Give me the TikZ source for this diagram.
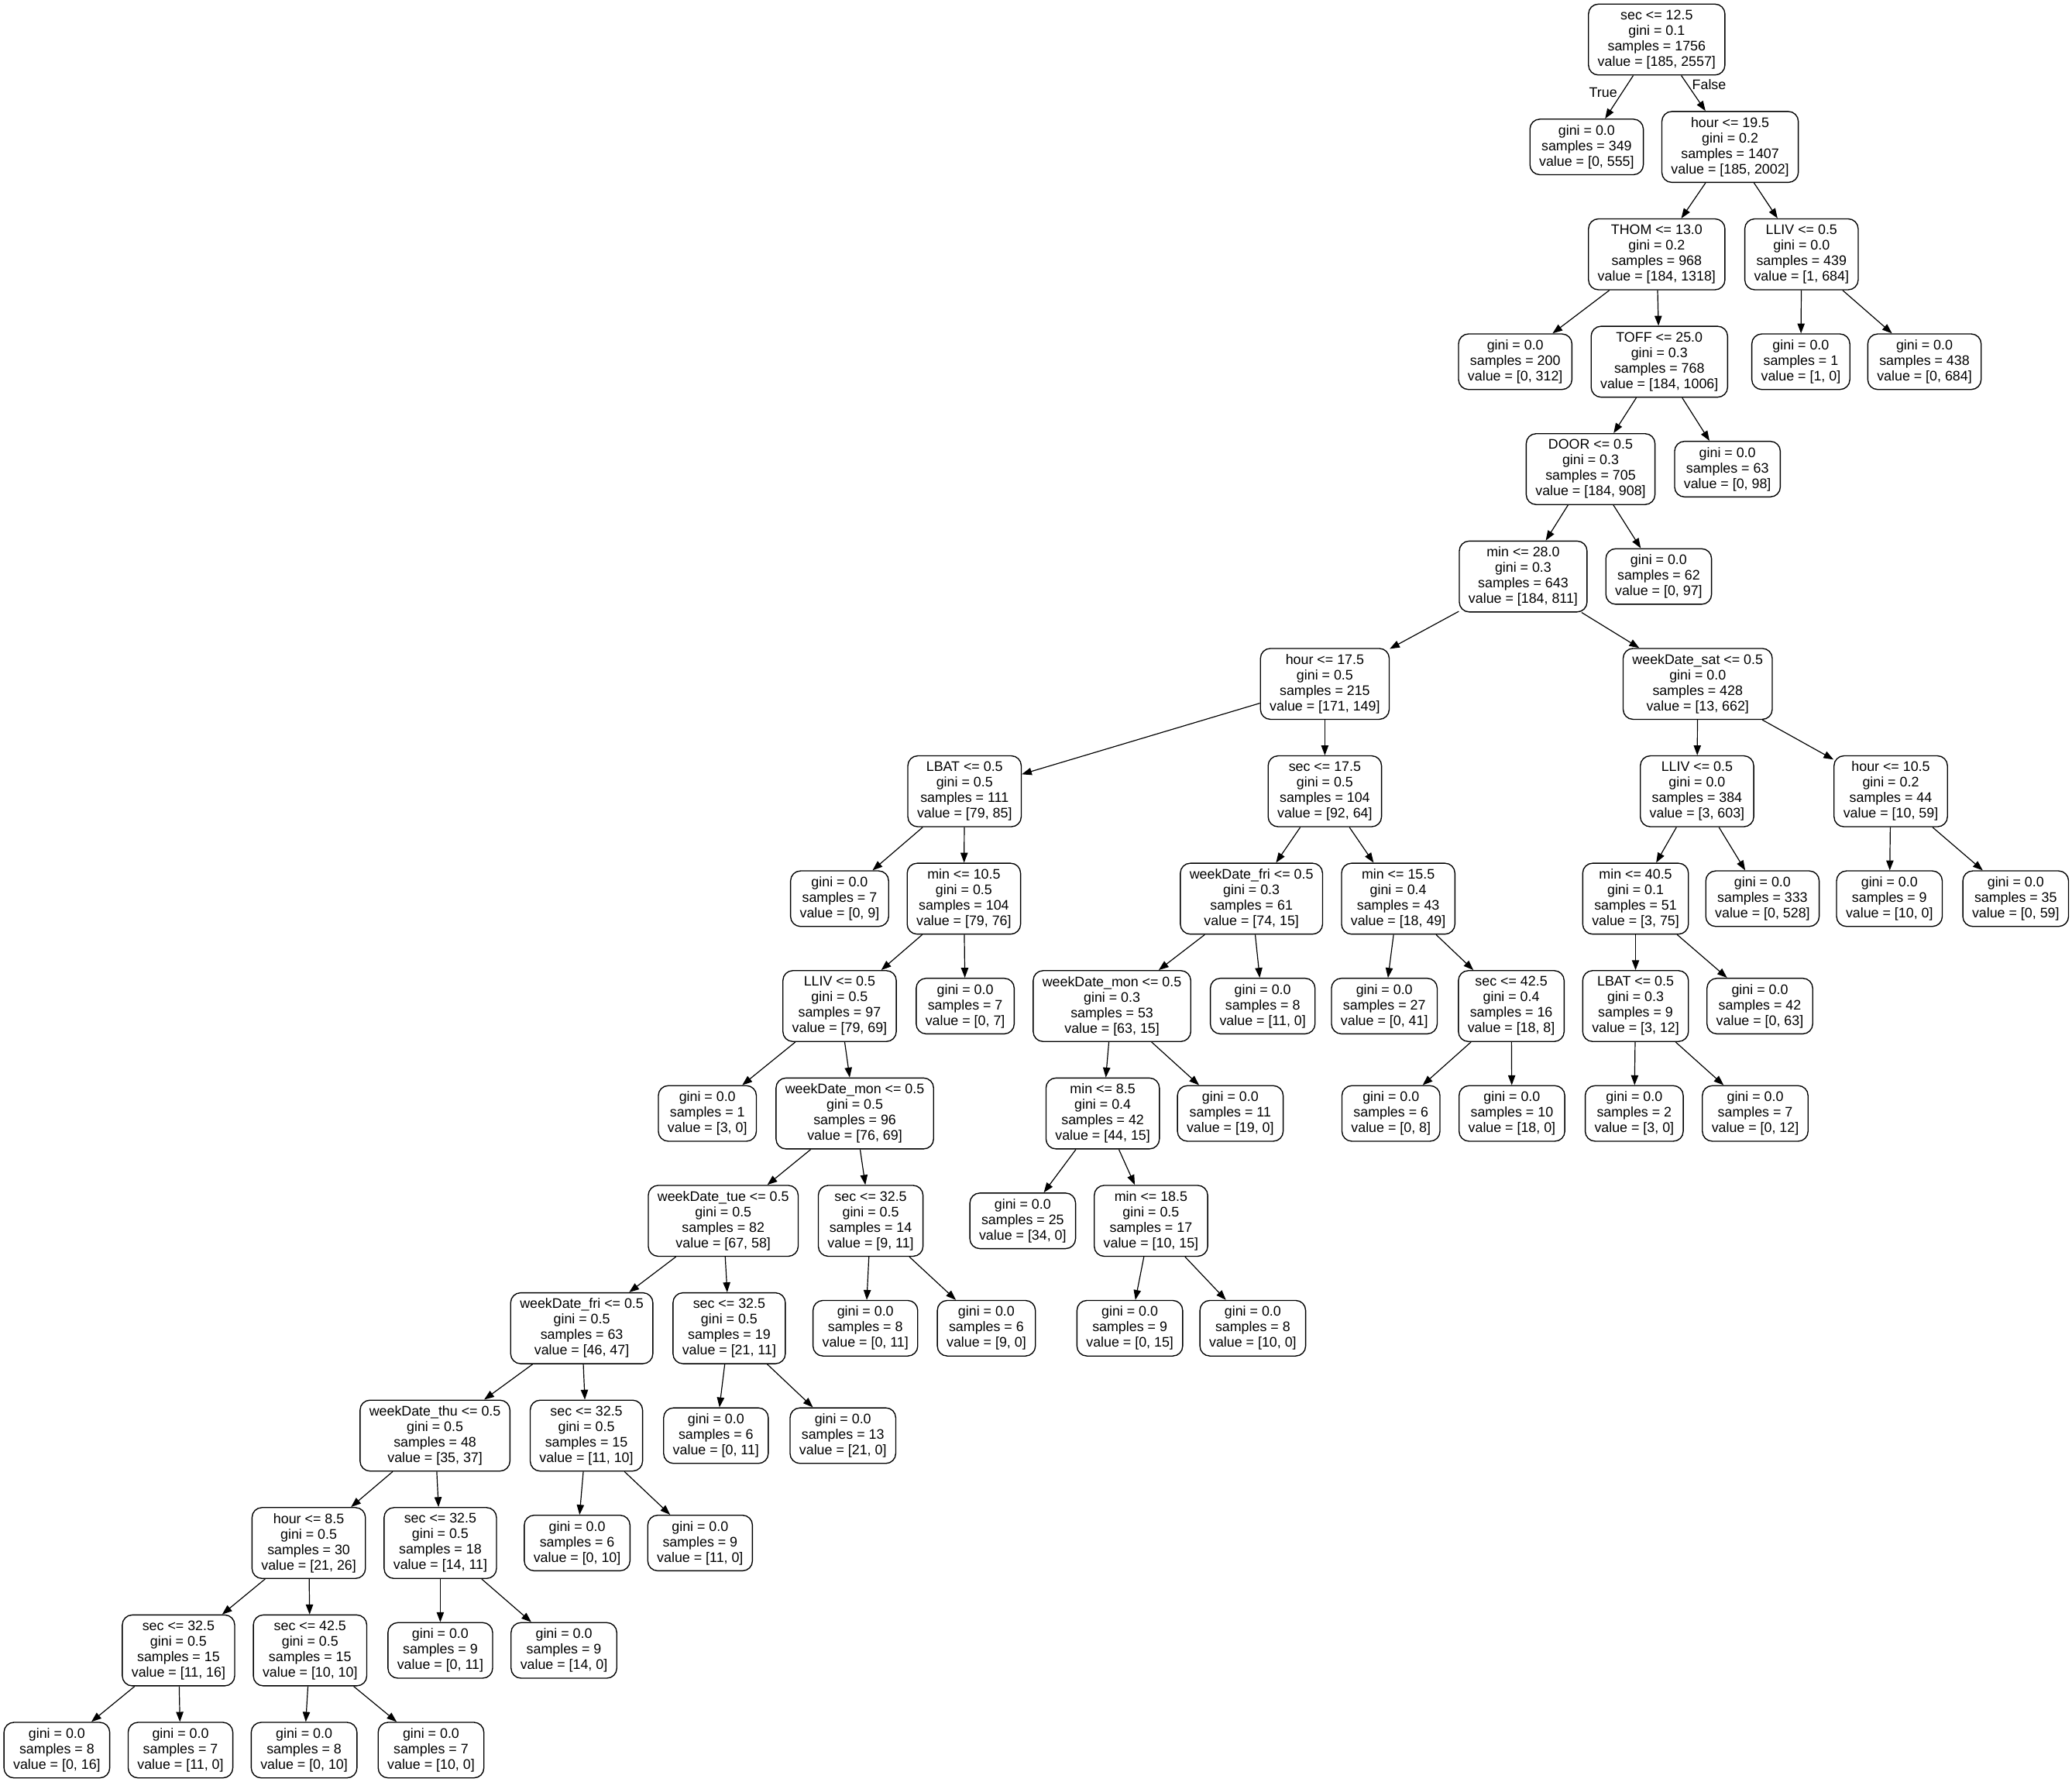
\documentclass[tikz,border=0pt]{standalone}
\usepackage{fontspec}
\setmainfont{Liberation Sans}
\usetikzlibrary{arrows.meta}
\begin{document}
\begin{tikzpicture}[x=1pt, y=1pt, node distance=81.2pt, font=\fontsize{10.45pt}{11.7pt}\selectfont,
        split/.style={draw, rounded corners=7.5pt, align=center, inner xsep=7pt, inner ysep=0pt, minimum height=53.6pt, line width=0.8pt},
        leaf/.style={split, minimum height=42pt},
        link/.style={-{Triangle[length=7.5pt, width=5.5pt]}, line width=0.7pt}]
        \useasboundingbox (0,0) rectangle (1567.1,-1347.4);
        \node[split] (0) at (1253,-29.9) {sec <= 12.5\\gini = 0.1\\samples = 1756\\value = [185, 2557]};
        \node[leaf] (1) [below of=0, xshift=-53pt] {gini = 0.0\\samples = 349\\value = [0, 555]};
        \node[split] (2) [below of=0, xshift=55.5pt] {hour <= 19.5\\gini = 0.2\\samples = 1407\\value = [185, 2002]};
        \node[split] (3) [below of=2, xshift=-55.5pt] {THOM <= 13.0\\gini = 0.2\\samples = 968\\value = [184, 1318]};
        \node[leaf] (4) [below of=3, xshift=-107pt] {gini = 0.0\\samples = 200\\value = [0, 312]};
        \node[split] (5) [below of=3, xshift=2pt] {TOFF <= 25.0\\gini = 0.3\\samples = 768\\value = [184, 1006]};
        \node[split] (6) [below of=5, xshift=-52pt] {DOOR <= 0.5\\gini = 0.3\\samples = 705\\value = [184, 908]};
        \node[split] (7) [below of=6, xshift=-51pt] {min <= 28.0\\gini = 0.3\\samples = 643\\value = [184, 811]};
        \node[split] (8) [below of=7, xshift=-150pt] {hour <= 17.5\\gini = 0.5\\samples = 215\\value = [171, 149]};
        \node[split] (9) [below of=8, xshift=-272.5pt] {LBAT <= 0.5\\gini = 0.5\\samples = 111\\value = [79, 85]};
        \node[leaf] (10) [below of=9, xshift=-94.5pt] {gini = 0.0\\samples = 7\\value = [0, 9]};
        \node[split] (11) [below of=9, xshift=-0.5pt] {min <= 10.5\\gini = 0.5\\samples = 104\\value = [79, 76]};
        \node[split] (12) [below of=11, xshift=-94pt] {LLIV <= 0.5\\gini = 0.5\\samples = 97\\value = [79, 69]};
        \node[leaf] (13) [below of=12, xshift=-100pt] {gini = 0.0\\samples = 1\\value = [3, 0]};
        \node[split] (14) [below of=12, xshift=11.5pt] {weekDate\_mon <= 0.5\\gini = 0.5\\samples = 96\\value = [76, 69]};
        \node[split] (15) [below of=14, xshift=-99.5pt] {weekDate\_tue <= 0.5\\gini = 0.5\\samples = 82\\value = [67, 58]};
        \node[split] (16) [below of=15, xshift=-107pt] {weekDate\_fri <= 0.5\\gini = 0.5\\samples = 63\\value = [46, 47]};
        \node[split] (17) [below of=16, xshift=-111pt] {weekDate\_thu <= 0.5\\gini = 0.5\\samples = 48\\value = [35, 37]};
        \node[split] (18) [below of=17, xshift=-95.5pt] {hour <= 8.5\\gini = 0.5\\samples = 30\\value = [21, 26]};
        \node[split] (19) [below of=18, xshift=-98.5pt] {sec <= 32.5\\gini = 0.5\\samples = 15\\value = [11, 16]};
        \node[leaf] (20) [below of=19, node distance=75.4pt, xshift=-92pt] {gini = 0.0\\samples = 8\\value = [0, 16]};
        \node[leaf] (21) [below of=19, node distance=75.4pt, xshift=1.5pt] {gini = 0.0\\samples = 7\\value = [11, 0]};
        \node[split] (22) [below of=18, xshift=1pt] {sec <= 42.5\\gini = 0.5\\samples = 15\\value = [10, 10]};
        \node[leaf] (23) [below of=22, node distance=75.4pt, xshift=-4.5pt] {gini = 0.0\\samples = 8\\value = [0, 10]};
        \node[leaf] (24) [below of=22, node distance=75.4pt, xshift=91.5pt] {gini = 0.0\\samples = 7\\value = [10, 0]};
        \node[split] (25) [below of=17, xshift=4pt] {sec <= 32.5\\gini = 0.5\\samples = 18\\value = [14, 11]};
        \node[leaf] (26) [below of=25] {gini = 0.0\\samples = 9\\value = [0, 11]};
        \node[leaf] (27) [below of=25, xshift=93.5pt] {gini = 0.0\\samples = 9\\value = [14, 0]};
        \node[split] (28) [below of=16, xshift=3.5pt] {sec <= 32.5\\gini = 0.5\\samples = 15\\value = [11, 10]};
        \node[leaf] (29) [below of=28, xshift=-7pt] {gini = 0.0\\samples = 6\\value = [0, 10]};
        \node[leaf] (30) [below of=28, xshift=86pt] {gini = 0.0\\samples = 9\\value = [11, 0]};
        \node[split] (31) [below of=15, xshift=4.5pt] {sec <= 32.5\\gini = 0.5\\samples = 19\\value = [21, 11]};
        \node[leaf] (32) [below of=31, xshift=-10pt] {gini = 0.0\\samples = 6\\value = [0, 11]};
        \node[leaf] (33) [below of=31, xshift=86pt] {gini = 0.0\\samples = 13\\value = [21, 0]};
        \node[split] (34) [below of=14, xshift=12pt] {sec <= 32.5\\gini = 0.5\\samples = 14\\value = [9, 11]};
        \node[leaf] (35) [below of=34, xshift=-4pt] {gini = 0.0\\samples = 8\\value = [0, 11]};
        \node[leaf] (36) [below of=34, xshift=87.5pt] {gini = 0.0\\samples = 6\\value = [9, 0]};
        \node[leaf] (37) [below of=11, xshift=1pt] {gini = 0.0\\samples = 7\\value = [0, 7]};
        \node[split] (38) [below of=8] {sec <= 17.5\\gini = 0.5\\samples = 104\\value = [92, 64]};
        \node[split] (39) [below of=38, xshift=-55.5pt] {weekDate\_fri <= 0.5\\gini = 0.3\\samples = 61\\value = [74, 15]};
        \node[split] (40) [below of=39, xshift=-105.5pt] {weekDate\_mon <= 0.5\\gini = 0.3\\samples = 53\\value = [63, 15]};
        \node[split] (41) [below of=40, xshift=-7pt] {min <= 8.5\\gini = 0.4\\samples = 42\\value = [44, 15]};
        \node[leaf] (42) [below of=41, xshift=-60.5pt] {gini = 0.0\\samples = 25\\value = [34, 0]};
        \node[split] (43) [below of=41, xshift=36.5pt] {min <= 18.5\\gini = 0.5\\samples = 17\\value = [10, 15]};
        \node[leaf] (44) [below of=43, xshift=-16pt] {gini = 0.0\\samples = 9\\value = [0, 15]};
        \node[leaf] (45) [below of=43, xshift=77pt] {gini = 0.0\\samples = 8\\value = [10, 0]};
        \node[leaf] (46) [below of=40, xshift=89.5pt] {gini = 0.0\\samples = 11\\value = [19, 0]};
        \node[leaf] (47) [below of=39, xshift=8.5pt] {gini = 0.0\\samples = 8\\value = [11, 0]};
        \node[split] (48) [below of=38, xshift=55.5pt] {min <= 15.5\\gini = 0.4\\samples = 43\\value = [18, 49]};
        \node[leaf] (49) [below of=48, xshift=-10.5pt] {gini = 0.0\\samples = 27\\value = [0, 41]};
        \node[split] (50) [below of=48, xshift=85.5pt] {sec <= 42.5\\gini = 0.4\\samples = 16\\value = [18, 8]};
        \node[leaf] (51) [below of=50, xshift=-91pt] {gini = 0.0\\samples = 6\\value = [0, 8]};
        \node[leaf] (52) [below of=50, xshift=0.5pt] {gini = 0.0\\samples = 10\\value = [18, 0]};
        \node[split] (53) [below of=7, xshift=132pt] {weekDate\_sat <= 0.5\\gini = 0.0\\samples = 428\\value = [13, 662]};
        \node[split] (54) [below of=53, xshift=-0.5pt] {LLIV <= 0.5\\gini = 0.0\\samples = 384\\value = [3, 603]};
        \node[split] (55) [below of=54, xshift=-46.5pt] {min <= 40.5\\gini = 0.1\\samples = 51\\value = [3, 75]};
        \node[split] (56) [below of=55] {LBAT <= 0.5\\gini = 0.3\\samples = 9\\value = [3, 12]};
        \node[leaf] (57) [below of=56, xshift=-1pt] {gini = 0.0\\samples = 2\\value = [3, 0]};
        \node[leaf] (58) [below of=56, xshift=90.5pt] {gini = 0.0\\samples = 7\\value = [0, 12]};
        \node[leaf] (59) [below of=55, xshift=94pt] {gini = 0.0\\samples = 42\\value = [0, 63]};
        \node[leaf] (60) [below of=54, xshift=49.5pt] {gini = 0.0\\samples = 333\\value = [0, 528]};
        \node[split] (61) [below of=53, xshift=146pt] {hour <= 10.5\\gini = 0.2\\samples = 44\\value = [10, 59]};
        \node[leaf] (62) [below of=61, xshift=-1pt] {gini = 0.0\\samples = 9\\value = [10, 0]};
        \node[leaf] (63) [below of=61, xshift=94.5pt] {gini = 0.0\\samples = 35\\value = [0, 59]};
        \node[leaf] (64) [below of=6, xshift=51.5pt] {gini = 0.0\\samples = 62\\value = [0, 97]};
        \node[leaf] (65) [below of=5, xshift=51.5pt] {gini = 0.0\\samples = 63\\value = [0, 98]};
        \node[split] (66) [below of=2, xshift=54pt] {LLIV <= 0.5\\gini = 0.0\\samples = 439\\value = [1, 684]};
        \node[leaf] (67) [below of=66, xshift=-0.5pt] {gini = 0.0\\samples = 1\\value = [1, 0]};
        \node[leaf] (68) [below of=66, xshift=93pt] {gini = 0.0\\samples = 438\\value = [0, 684]};
        \draw[link] (0) -- node[pos=0.4, left] (true) {True} (1);
        \draw[link] (0) -- node[pos=0.25, right] (false) {False} (2);
        \draw[link] (2) -- (3);
        \draw[link] (2) -- (66);
        \draw[link] (3) -- (4);
        \draw[link] (3) -- (5);
        \draw[link] (5) -- (6);
        \draw[link] (5) -- (65);
        \draw[link] (6) -- (7);
        \draw[link] (6) -- (64);
        \draw[link] (7) -- (8);
        \draw[link] (7) -- (53);
        \draw[link] (8) -- (9);
        \draw[link] (8) -- (38);
        \draw[link] (9) -- (10);
        \draw[link] (9) -- (11);
        \draw[link] (11) -- (12);
        \draw[link] (11) -- (37);
        \draw[link] (12) -- (13);
        \draw[link] (12) -- (14);
        \draw[link] (14) -- (15);
        \draw[link] (14) -- (34);
        \draw[link] (15) -- (16);
        \draw[link] (15) -- (31);
        \draw[link] (16) -- (17);
        \draw[link] (16) -- (28);
        \draw[link] (17) -- (18);
        \draw[link] (17) -- (25);
        \draw[link] (18) -- (19);
        \draw[link] (18) -- (22);
        \draw[link] (19) -- (20);
        \draw[link] (19) -- (21);
        \draw[link] (22) -- (23);
        \draw[link] (22) -- (24);
        \draw[link] (25) -- (26);
        \draw[link] (25) -- (27);
        \draw[link] (28) -- (29);
        \draw[link] (28) -- (30);
        \draw[link] (31) -- (32);
        \draw[link] (31) -- (33);
        \draw[link] (34) -- (35);
        \draw[link] (34) -- (36);
        \draw[link] (38) -- (39);
        \draw[link] (38) -- (48);
        \draw[link] (39) -- (40);
        \draw[link] (39) -- (47);
        \draw[link] (40) -- (41);
        \draw[link] (40) -- (46);
        \draw[link] (41) -- (42);
        \draw[link] (41) -- (43);
        \draw[link] (43) -- (44);
        \draw[link] (43) -- (45);
        \draw[link] (48) -- (49);
        \draw[link] (48) -- (50);
        \draw[link] (50) -- (51);
        \draw[link] (50) -- (52);
        \draw[link] (53) -- (54);
        \draw[link] (53) -- (61);
        \draw[link] (54) -- (55);
        \draw[link] (54) -- (60);
        \draw[link] (55) -- (56);
        \draw[link] (55) -- (59);
        \draw[link] (56) -- (57);
        \draw[link] (56) -- (58);
        \draw[link] (61) -- (62);
        \draw[link] (61) -- (63);
        \draw[link] (66) -- (67);
        \draw[link] (66) -- (68);
    \end{tikzpicture}
\end{document}
